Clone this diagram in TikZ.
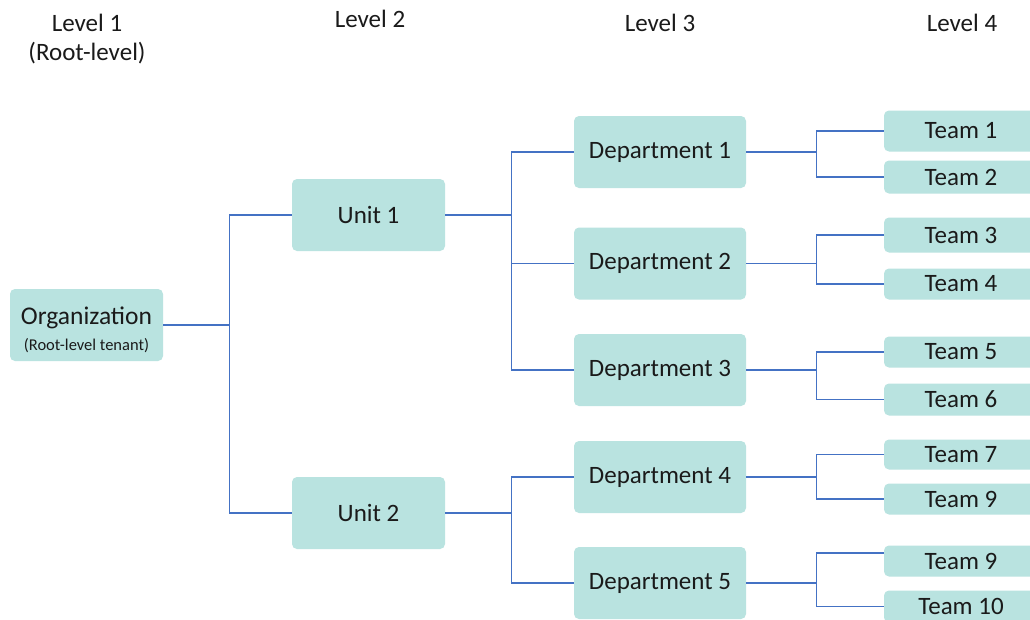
\documentclass[tikz,border=0pt]{standalone}
\usepackage{fontspec}
\setmainfont{Carlito}
\definecolor{boxfill}{HTML}{B9E3E0}
\definecolor{linecol}{HTML}{4472C4}
\definecolor{txt}{HTML}{1A1A1A}
\begin{document}
\begin{tikzpicture}[x=1pt,y=-1pt,
  every node/.style={text=txt},
  box/.style={fill=boxfill, rounded corners=5pt, inner sep=0pt, font=\fontsize{25}{30}\selectfont},
  orgbox/.style={box, minimum width=153pt, minimum height=72pt},
  unitbox/.style={box, minimum width=153pt, minimum height=72pt},
  deptbox/.style={box, minimum width=172pt, minimum height=72pt},
  teambox/.style={box, minimum width=154pt, minimum height=#1},
  teambox/.default=32pt,
  lvl/.style={anchor=base, font=\fontsize{25}{30}\selectfont, inner sep=0pt},
  conn/.style={draw=linecol, line width=1.15pt},
  connthick/.style={draw=linecol, line width=1.6pt}
]
\useasboundingbox (0,0) rectangle (1030,619);
\fill[white] (0,0) rectangle (1030,619);

% level labels
\node[lvl] (l1) at (87,31) {Level 1};
\node[lvl] (l1b) at (87,60) {(Root-level)};
\node[lvl] (l2) at (370,27) {Level 2};
\node[lvl] (l3) at (660,31) {Level 3};
\node[lvl] (l4) at (962,31) {Level 4};

% level 1
\node[orgbox] (org) at (86.5,325) {};
\node[anchor=base, inner sep=0pt, font=\fontsize{25.5}{30}\selectfont] (orgt) at (86.5,324) {Organization};
\node[anchor=base, inner sep=0pt, font=\fontsize{16.5}{19}\selectfont] (orgs) at (86.5,350) {(Root-level tenant)};

% level 2
\node[unitbox] (u1) at (368.5,215) {Unit 1};
\node[unitbox] (u2) at (368.5,513) {Unit 2};

% level 3
\node[deptbox] (d1) at (660,152) {Department 1};
\node[deptbox] (d2) at (660,263.5) {Department 2};
\node[deptbox] (d3) at (660,370) {Department 3};
\node[deptbox] (d4) at (660,477) {Department 4};
\node[deptbox] (d5) at (660,583) {Department 5};

% level 4
\node[teambox=41pt] (t1) at (961,131) {Team 1};
\node[teambox=33pt] (t2) at (961,177) {Team 2};
\node[teambox=35pt] (t3) at (961,235) {Team 3};
\node[teambox=31pt] (t4) at (961,284) {Team 4};
\node[teambox=31pt] (t5) at (961,352) {Team 5};
\node[teambox=32pt] (t6) at (961,399.5) {Team 6};
\node[teambox=30pt] (t7) at (961,454.5) {Team 7};
\node[teambox=31pt] (t8) at (961,499) {Team 9};
\node[teambox=31pt] (t9) at (961,561) {Team 9};
\node[teambox=32pt] (t10) at (961,606.5) {Team 10};

% junctions
\path (org.east) ++(66,0) coordinate (j0);
\path (u1.east) ++(66,0) coordinate (j1);
\path (u2.east) ++(66,0) coordinate (j2);
\path (d1.east) ++(70,0) coordinate (k1);
\path (d2.east) ++(70,0) coordinate (k2);
\path (d3.east) ++(70,0) coordinate (k3);
\path (d4.east) ++(70,0) coordinate (k4);
\path (d5.east) ++(70,0) coordinate (k5);

% connectors level 1 -> 2
\draw[conn] (org.east) -- (j0);
\draw[conn] (u1.west) -| (j0) |- (u2.west);

% level 2 -> 3
\draw[conn] (u1.east) -- (j1);
\draw[conn] (d1.west) -| (j1) |- (d3.west);
\draw[conn] (d2.west) -- (d2.west -| j1);
\draw[connthick] (u2.east) -- (j2);
\draw[conn] (d4.west) -| (j2) |- (d5.west);

% level 3 -> 4
\draw[conn] (d1.east) -- (k1);
\draw[conn] (t1.west) -| (k1) |- (t2.west);
\draw[conn] (d2.east) -- (k2);
\draw[conn] (t3.west) -| (k2) |- (t4.west);
\draw[connthick] (d3.east) -- (k3);
\draw[conn] (t5.west) -| (k3) |- (t6.west);
\draw[connthick] (d4.east) -- (k4);
\draw[conn] (t7.west) -| (k4) |- (t8.west);
\draw[connthick] (d5.east) -- (k5);
\draw[conn] ([yshift=8pt]t9.west) -| (k5) |- (t10.west);
\end{tikzpicture}
\end{document}
